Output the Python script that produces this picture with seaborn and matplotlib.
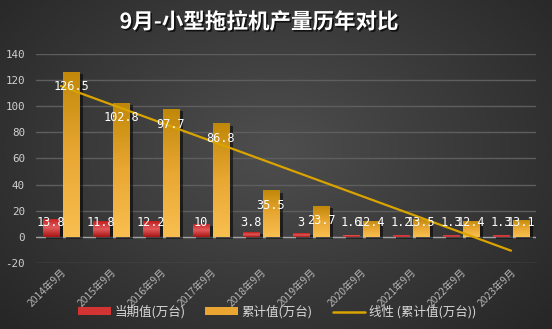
import numpy as np
import pandas as pd
import matplotlib
matplotlib.use("Agg")
import matplotlib.pyplot as plt
import matplotlib.patheffects as pe
from matplotlib.colors import LinearSegmentedColormap
from matplotlib.patches import Patch
from matplotlib.lines import Line2D
import seaborn as sns

# ---- data ----
years = ["2014年9月", "2015年9月", "2016年9月", "2017年9月", "2018年9月",
         "2019年9月", "2020年9月", "2021年9月", "2022年9月", "2023年9月"]
current = [13.8, 11.8, 12.2, 10, 3.8, 3, 1.6, 1.2, 1.3, 1.3]
cumulative = [126.5, 102.8, 97.7, 86.8, 35.5, 23.7, 12.4, 13.5, 12.4, 13.1]
series_names = ["当期值(万台)", "累计值(万台)"]
trend_name = "线性 (累计值(万台))"
title = "9月-小型拖拉机产量历年对比"
yticks = [-20, 0, 20, 40, 60, 80, 100, 120, 140]

df = pd.DataFrame({
    "年份": years * 2,
    "系列": [series_names[0]] * len(years) + [series_names[1]] * len(years),
    "值": current + cumulative,
})

sns.set_theme(style="dark")
CJK = ["Noto Sans CJK SC", "DejaVu Sans"]
MONO = ["DejaVu Sans Mono"]
plt.rcParams["font.family"] = CJK
plt.rcParams["axes.unicode_minus"] = False

fig = plt.figure(figsize=(5.52, 3.29), dpi=100)

# dark radial background
bg = fig.add_axes([0, 0, 1, 1], zorder=-10)
yy, xx = np.mgrid[0:1:200j, 0:1:300j]
r = np.sqrt(((xx - 0.5) / 0.75) ** 2 + ((yy - 0.45) / 0.9) ** 2)
shade = np.clip(1 - r, 0, 1)
bg_cmap = LinearSegmentedColormap.from_list("bg", ["#262626", "#4e4e4e"])
bg.imshow(shade, cmap=bg_cmap, aspect="auto", extent=[0, 1, 0, 1], origin="upper")
bg.set_axis_off()

ax = fig.add_axes([0.065, 0.2006, 0.906, 0.6354])
ax.patch.set_alpha(0)

red, gold = "#d23434", "#eaa630"
sns.barplot(data=df, x="年份", y="值", hue="系列", hue_order=series_names,
            palette=[red, gold], width=0.8, gap=0.17, legend=False,
            saturation=1, ax=ax, zorder=3)

red_cmap = LinearSegmentedColormap.from_list("r", ["#a81414", "#e25a5a", "#c21e1e"])
gold_cmap = LinearSegmentedColormap.from_list("g", ["#f8bf50", "#e9a733", "#c08808"])
grad = np.linspace(0, 1, 256).reshape(-1, 1)
shadow = [pe.SimplePatchShadow(offset=(2.5, -1.5), shadow_rgbFace="black", alpha=0.55), pe.Normal()]
for cont, cmap in zip(ax.containers, [red_cmap, gold_cmap]):
    for bar in cont:
        bar.set_path_effects(shadow)
        bar.set_edgecolor("none")
        x0, w, h = bar.get_x(), bar.get_width(), bar.get_height()
        im = ax.imshow(grad, extent=[x0, x0 + w, 0, h], origin="lower", cmap=cmap,
                       aspect="auto", zorder=3.5, interpolation="bilinear")
        im.set_clip_path(bar)

# linear trend of the cumulative series
xs = np.arange(len(years))
k, b = np.polyfit(xs + 1, cumulative, 1)
ax.plot(xs, k * (xs + 1) + b, color="#d9a300", lw=1.6, zorder=5)

# value labels
for cont, vals, kind in zip(ax.containers, [current, cumulative], ["cur", "cum"]):
    for bar, v in zip(cont, vals):
        cx = bar.get_x() + bar.get_width() / 2
        ty = 10.8 if kind == "cur" else max(v - 11.5, 10.8)
        ax.text(cx, ty, f"{v:g}", ha="center", va="center", color="white",
                fontsize=8.6, family=MONO, zorder=6)

ax.set_xlim(-0.5, len(years) - 0.5)
ax.set_ylim(-20, 140)
ax.set_yticks(yticks)
ax.set_yticklabels([str(t) for t in yticks], family=MONO, fontsize=7.8, color="#d0d0d0")
ax.set_xticks(xs)
ax.set_xticklabels(years, rotation=45, ha="right", rotation_mode="anchor",
                   fontsize=7.4, color="#b4b4b4")
ax.tick_params(axis="both", length=0, pad=3)
ax.tick_params(axis="y", pad=8)
ax.set_xlabel("")
ax.set_ylabel("")
for s in ax.spines.values():
    s.set_visible(False)
ax.grid(False)
for t in yticks:
    ax.axhline(t, color="#a0a0a0" if t == 0 else "#5e5e5e", lw=1, zorder=1)

fig.text(0.469, 0.933, title, ha="center", va="center", color="white", fontsize=15.5,
         fontweight="bold",
         path_effects=[pe.withSimplePatchShadow(offset=(1.2, -1.2), shadow_rgbFace="black", alpha=0.7)])

handles = [Patch(facecolor=red, edgecolor="none"),
           Patch(facecolor=gold, edgecolor="none"),
           Line2D([0], [0], color="#d9a300", lw=1.8)]
fig.legend(handles, series_names + [trend_name], loc="center", bbox_to_anchor=(0.502, 0.052),
           ncol=3, frameon=False, fontsize=9, labelcolor="#d8d8d8",
           handlelength=2.6, handleheight=0.55, columnspacing=1.6, handletextpad=0.3)

fig.savefig("out.png", dpi=100)
